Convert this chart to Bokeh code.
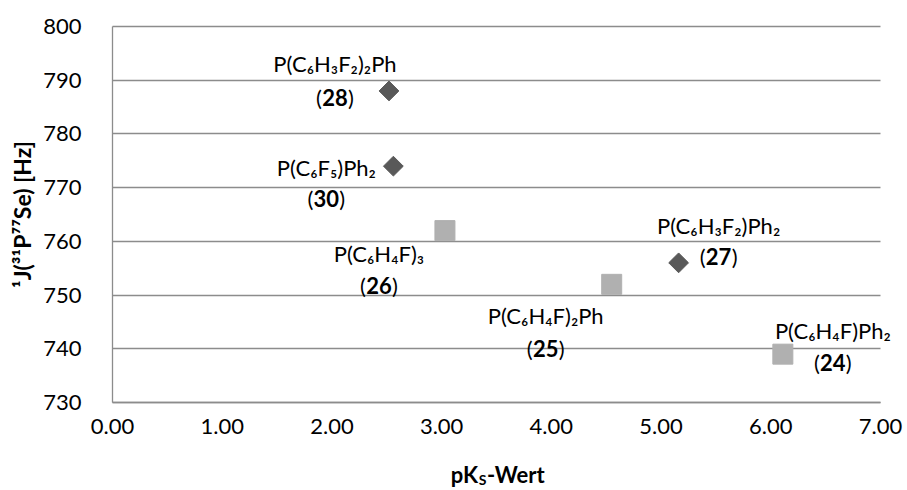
from bokeh.plotting import figure
from bokeh.models import Range1d, FixedTicker, Label, LabelSet, ColumnDataSource
from bokeh.core.properties import value
from bokeh.embed import file_html
from bokeh.resources import INLINE
import math

# ---------------- data ----------------
diamond_ids = ["28", "30", "27"]
diamond_formula = ["P(C₆H₃F₂)₂Ph", "P(C₆F₅)Ph₂", "P(C₆H₃F₂)Ph₂"]
diamond_pks = [2.52, 2.56, 5.16]
diamond_j = [788, 774, 756]

square_ids = ["26", "25", "24"]
square_formula = ["P(C₆H₄F)₃", "P(C₆H₄F)₂Ph", "P(C₆H₄F)Ph₂"]
square_pks = [3.03, 4.55, 6.11]
square_j = [762, 752, 739]

x_ticks = [0, 1, 2, 3, 4, 5, 6, 7]
x_tick_labels = ["0.00", "1.00", "2.00", "3.00", "4.00", "5.00", "6.00", "7.00"]
y_ticks = [730, 740, 750, 760, 770, 780, 790, 800]

y_title = "¹J(³¹P⁷⁷Se) [Hz]"
x_title_parts = ["pK", "S", "-Wert"]

# ---------------- layout / style ----------------
W, H = 907, 490
PLOT_LEFT, PLOT_RIGHT, PLOT_TOP, PLOT_BOTTOM = 112, 880, 26, 402  # pixel box of the axes area

# label placement (pixel offsets from each point, y down)
diamond_dx = [-54, -67, 40]
diamond_dy1 = [-27, 1, -37]
diamond_dy2 = [7, 32, -6]
square_dx = [-66, -66, 50]
square_dy1 = [23, 31, -24]
square_dy2 = [55, 64, 8]

FONT = "Lato"
TXT = "#000000"
GRID = "#8c8c8c"
DIAMOND_COLOR = "#595959"
SQUARE_COLOR = "#b0b0b0"
LABEL_SIZE = "22px"
NUM_HALF = 13  # half width of bold two-digit number (px)

# ranges chosen so that the axis box sits at the pixel box above while the
# frame covers the whole canvas (so that no label is clipped)
x0, x1 = x_ticks[0], x_ticks[-1]
y0, y1 = y_ticks[0], y_ticks[-1]
xs = (PLOT_RIGHT - PLOT_LEFT) / (x1 - x0)
ys = (PLOT_BOTTOM - PLOT_TOP) / (y1 - y0)
x_range = Range1d(x0 - PLOT_LEFT / xs, x1 + (W - PLOT_RIGHT) / xs)
y_range = Range1d(y0 - (H - PLOT_BOTTOM) / ys, y1 + PLOT_TOP / ys)

p = figure(width=W, height=H, x_range=x_range, y_range=y_range,
           output_backend="svg", toolbar_location=None,
           min_border_left=0, min_border_right=0, min_border_top=0, min_border_bottom=0)
p.outline_line_color = None
p.background_fill_color = "white"
p.border_fill_color = "white"

p.xgrid.grid_line_color = None
p.ygrid.grid_line_color = GRID
p.ygrid.grid_line_width = 1.3
p.ygrid.cross_bounds = (x0, x1)

p.xaxis.ticker = FixedTicker(ticks=x_ticks)
p.xaxis.major_label_overrides = {t: l for t, l in zip(x_ticks, x_tick_labels)}
p.yaxis.ticker = FixedTicker(ticks=y_ticks)
p.xaxis.fixed_location = y0
p.yaxis.fixed_location = x0
p.xaxis.bounds = (x0, x1)
p.yaxis.bounds = (y0, y1)
for ax in (p.xaxis, p.yaxis):
    ax.axis_line_color = GRID
    ax.axis_line_width = 1.3
    ax.major_tick_line_color = None
    ax.minor_tick_line_color = None
    ax.major_label_text_font = FONT
    ax.major_label_text_font_size = "22px"
    ax.major_label_text_color = TXT
p.yaxis.major_label_standoff = 25
p.xaxis.major_label_standoff = 10

p.yaxis.axis_label = y_title
p.yaxis.axis_label_text_font = FONT
p.yaxis.axis_label_text_font_size = "23px"
p.yaxis.axis_label_text_font_style = "bold"
p.yaxis.axis_label_text_color = TXT
p.yaxis.axis_label_standoff = 4

# markers
p.scatter(x=square_pks, y=square_j, marker="square", size=20,
          fill_color=SQUARE_COLOR, line_color=SQUARE_COLOR)
p.scatter(x=diamond_pks, y=diamond_j, marker="square", size=14, angle=math.pi / 4,
          fill_color=DIAMOND_COLOR, line_color=DIAMOND_COLOR)


def add_labels(xv, yv, formulas, ids, dx, dy1, dy2):
    src = ColumnDataSource(dict(
        x=xv, y=yv, f=formulas, n=ids,
        lp=["("] * len(ids), rp=[")"] * len(ids),
        dx=dx, dxl=[d - NUM_HALF for d in dx], dxr=[d + NUM_HALF for d in dx],
        up1=[-d for d in dy1], up2=[-d for d in dy2]))
    common = dict(x="x", y="y", source=src, text_baseline="middle",
                  text_font=value(FONT), text_font_size=value(LABEL_SIZE),
                  text_color=value(TXT))
    p.add_layout(LabelSet(text="f", x_offset="dx", y_offset="up1",
                          text_align="center", **common))
    p.add_layout(LabelSet(text="n", x_offset="dx", y_offset="up2",
                          text_align="center", text_font_style="bold", **common))
    p.add_layout(LabelSet(text="lp", x_offset="dxl", y_offset="up2",
                          text_align="right", **common))
    p.add_layout(LabelSet(text="rp", x_offset="dxr", y_offset="up2",
                          text_align="left", **common))


add_labels(diamond_pks, diamond_j, diamond_formula, diamond_ids,
           diamond_dx, diamond_dy1, diamond_dy2)
add_labels(square_pks, square_j, square_formula, square_ids,
           square_dx, square_dy1, square_dy2)

# x axis title with subscript S (offsets in screen pixels below the axis)
xc = (x0 + x1) / 2
S_CENTER = -14
S_HALF = 4.5
xt = dict(x=xc, y=y0, text_baseline="middle", text_font=FONT,
          text_font_style="bold", text_color=TXT)
p.add_layout(Label(x_offset=S_CENTER - S_HALF, y_offset=-72, text=x_title_parts[0],
                   text_align="right", text_font_size="22px", **xt))
p.add_layout(Label(x_offset=S_CENTER, y_offset=-77, text=x_title_parts[1],
                   text_align="center", text_font_size="14px", **xt))
p.add_layout(Label(x_offset=S_CENTER + S_HALF, y_offset=-72, text=x_title_parts[2],
                   text_align="left", text_font_size="22px", **xt))

open("out.html", "w").write(file_html(p, INLINE))
